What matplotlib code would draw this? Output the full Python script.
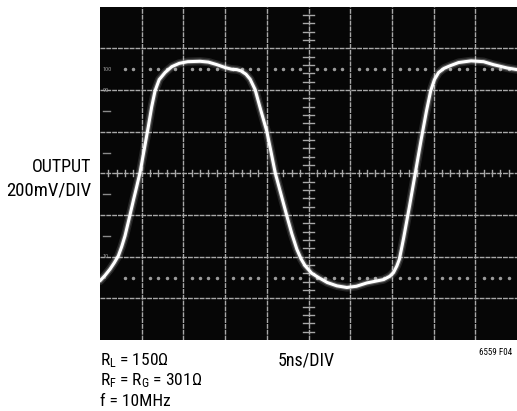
import numpy as np
import matplotlib
matplotlib.use("Agg")
import matplotlib.pyplot as plt
from matplotlib import font_manager as fm

# ---- data (divisions: time 0..10, output -4..4) ----
t_div = [0.00, 0.12, 0.24, 0.34, 0.44, 0.52, 0.60, 0.70, 0.80, 0.88, 0.96, 1.06, 1.16,
         1.24, 1.32, 1.42, 1.56, 1.72, 1.90, 2.10, 2.40, 2.60, 2.80, 3.00, 3.15, 3.28,
         3.38, 3.50, 3.60, 3.72, 3.86, 4.00, 4.10, 4.20, 4.34, 4.48, 4.60, 4.72, 4.82,
         4.92, 5.08, 5.24, 5.45, 5.68, 5.92, 6.15, 6.40, 6.60, 6.80, 6.95, 7.04, 7.12,
         7.18, 7.28, 7.42, 7.56, 7.70, 7.83, 7.93, 8.02, 8.12, 8.25, 8.39, 8.60, 8.90,
         9.20, 9.43, 9.76, 10.0]
v_div = [-2.58, -2.45, -2.30, -2.15, -1.98, -1.76, -1.50, -1.08, -0.65, -0.32, 0.02, 0.57, 1.13,
         1.60, 1.98, 2.25, 2.42, 2.56, 2.64, 2.68, 2.69, 2.67, 2.61, 2.54, 2.50, 2.49,
         2.46, 2.38, 2.26, 2.01, 1.50, 1.01, 0.52, 0.02, -0.50, -1.02, -1.45, -1.82, -2.05,
         -2.22, -2.40, -2.50, -2.62, -2.70, -2.74, -2.71, -2.63, -2.59, -2.55, -2.47, -2.38, -2.22,
         -2.06, -1.56, -0.80, 0.00, 0.80, 1.50, 1.98, 2.25, 2.42, 2.52, 2.58, 2.66, 2.70,
         2.68, 2.61, 2.53, 2.49]

pct_labels = ["100", "90", "10", "0"]
pct_levels = [2.5, 2.0, -2.0, -2.5]

ylabel_lines = ["OUTPUT", "200mV/DIV"]
cond_lines = [r"R$_\mathrm{L}$ = 150Ω", r"R$_\mathrm{F}$ = R$_\mathrm{G}$ = 301Ω", "f = 10MHz"]
xlabel = "5ns/DIV"
fig_id = "6559 F04"

# ---- fonts ----
names = {f.name for f in fm.fontManager.ttflist}
narrow = "DejaVu Sans"
for cand in ("Roboto Condensed", "Archivo Narrow", "PT Sans Narrow", "Liberation Sans Narrow"):
    if cand in names:
        narrow = cand
        break
plt.rcParams["font.family"] = [narrow, "DejaVu Sans"]
plt.rcParams["mathtext.fontset"] = "custom"
plt.rcParams["mathtext.rm"] = narrow
plt.rcParams["mathtext.it"] = narrow

W, H = 517, 411
fig = plt.figure(figsize=(W / 100, H / 100), dpi=100)
fig.patch.set_facecolor("white")

ax_l, ax_r, ax_t, ax_b = 100, 517, 6.7, 340
ax = fig.add_axes([ax_l / W, 1 - ax_b / H, (ax_r - ax_l) / W, (ax_b - ax_t) / H])
ax.set_facecolor("#060606")
ax.set_xlim(0, 10)
ax.set_ylim(-4, 4)
for s in ax.spines.values():
    s.set_visible(False)
ax.set_xticks([])
ax.set_yticks([])

gcol = "#a8a8a8"
gls = (0, (3.5, 0.7))
for x in range(1, 10):
    ax.axvline(x, color=gcol, lw=1.0, ls=gls, zorder=1)
for y in range(-3, 4):
    ax.axhline(y, color=gcol, lw=1.0, ls=gls, zorder=1)

# minor ticks on centre lines
minor = np.arange(0, 10.001, 0.2)
for x in minor:
    if abs(x - round(x)) > 1e-6:
        ax.plot([x, x], [-0.07, 0.07], color=gcol, lw=1.0, zorder=1)
minor_y = np.arange(-4, 4.001, 0.2)
for y in minor_y:
    if abs(y - round(y)) > 1e-6:
        ax.plot([4.88, 5.12], [y, y], color=gcol, lw=1.0, zorder=1)

# dotted 0% / 100% lines
for lvl in (2.5, -2.5):
    xs = [x for x in minor if abs(x - round(x)) > 1e-6 and x > 0.6]
    ax.plot(xs, [lvl] * len(xs), ls="none", marker="o", ms=1.5, color="#9a9a9a", zorder=1)

# left edge dashes
for y in (1.5, 0.5, -0.5, -1.5):
    ax.plot([0.08, 0.25], [y, y], color="#8a8a8a", lw=1.0, zorder=1)
for lab, lvl in zip(pct_labels, pct_levels):
    ax.text(0.07, lvl, lab, color="#9a9a9a", fontsize=4.5, va="center", ha="left", zorder=2)

# trace with glow
ax.plot(t_div, v_div, color="white", lw=6, alpha=0.12, solid_capstyle="round",
        solid_joinstyle="round", zorder=3)
ax.plot(t_div, v_div, color="white", lw=3.8, alpha=0.25, solid_capstyle="round",
        solid_joinstyle="round", zorder=3)
ax.plot(t_div, v_div, color="white", lw=2.2, solid_capstyle="round",
        solid_joinstyle="round", zorder=4)


def ftext(x, y, s, **kw):
    fig.text(x / W, 1 - y / H, s, **kw)


fs = 12.5
ftext(91, 171.5, ylabel_lines[0], fontsize=13, ha="right", va="baseline")
ftext(91, 195, ylabel_lines[1], fontsize=13.5, ha="right", va="baseline")
for i, line in enumerate(cond_lines):
    ftext(100, 365 + i * 20.5, line, fontsize=fs, ha="left", va="baseline")
ftext(278, 365, xlabel, fontsize=13, ha="left", va="baseline")
ftext(479, 355, fig_id, fontsize=6.5, ha="left", va="baseline")

fig.savefig("out.png", dpi=100)
